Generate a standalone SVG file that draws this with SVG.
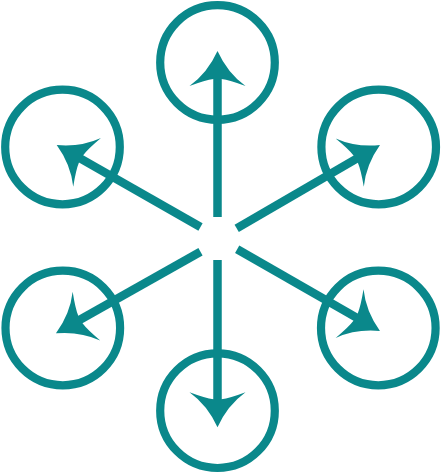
<svg xmlns="http://www.w3.org/2000/svg" width="441" height="473" viewBox="0 0 441 473">
  <style>
    .ring { fill: none; stroke: #0a888b; stroke-width: 8.2; }
    .shaft { fill: none; stroke: #0a888b; stroke-width: 8.5; stroke-linecap: butt; }
  </style>
  <defs>
    <marker id="head" viewBox="-40 -32 44 64" markerWidth="44" markerHeight="64" refX="-26" refY="0" orient="auto" markerUnits="userSpaceOnUse">
      <path d="M0,0 Q-22,10 -35,28 Q-29,12 -28,4 L-28,-4 Q-29,-12 -35,-28 Q-22,-10 0,0 Z" fill="#0a888b"/>
    </marker>
  </defs>
  <rect width="441" height="473" fill="#ffffff"/>
  <g id="node-top"><circle class="ring" cx="217.5" cy="62.5" r="57.3"/></g>
  <g id="node-bottom"><circle class="ring" cx="217.5" cy="410.7" r="57.3"/></g>
  <g id="node-upper-left"><circle class="ring" cx="62.5" cy="147" r="57.3"/></g>
  <g id="node-upper-right"><circle class="ring" cx="378.7" cy="147" r="57.3"/></g>
  <g id="node-lower-left"><circle class="ring" cx="62.8" cy="328" r="57.3"/></g>
  <g id="node-lower-right"><circle class="ring" cx="378.3" cy="328" r="57.3"/></g>
  <g id="connectors">
    <line class="shaft" x1="217.5" y1="217" x2="217.5" y2="77" marker-end="url(#head)"/>
    <line class="shaft" x1="217.5" y1="260" x2="217.5" y2="401.3" marker-end="url(#head)"/>
    <line class="shaft" x1="200.5" y1="227" x2="79.3" y2="157.9" marker-end="url(#head)"/>
    <line class="shaft" x1="236.7" y1="228.3" x2="357.5" y2="158.1" marker-end="url(#head)"/>
    <line class="shaft" x1="200.5" y1="251.7" x2="78.6" y2="320.5" marker-end="url(#head)"/>
    <line class="shaft" x1="237.2" y1="249.2" x2="357.4" y2="318.1" marker-end="url(#head)"/>
  </g>
</svg>
